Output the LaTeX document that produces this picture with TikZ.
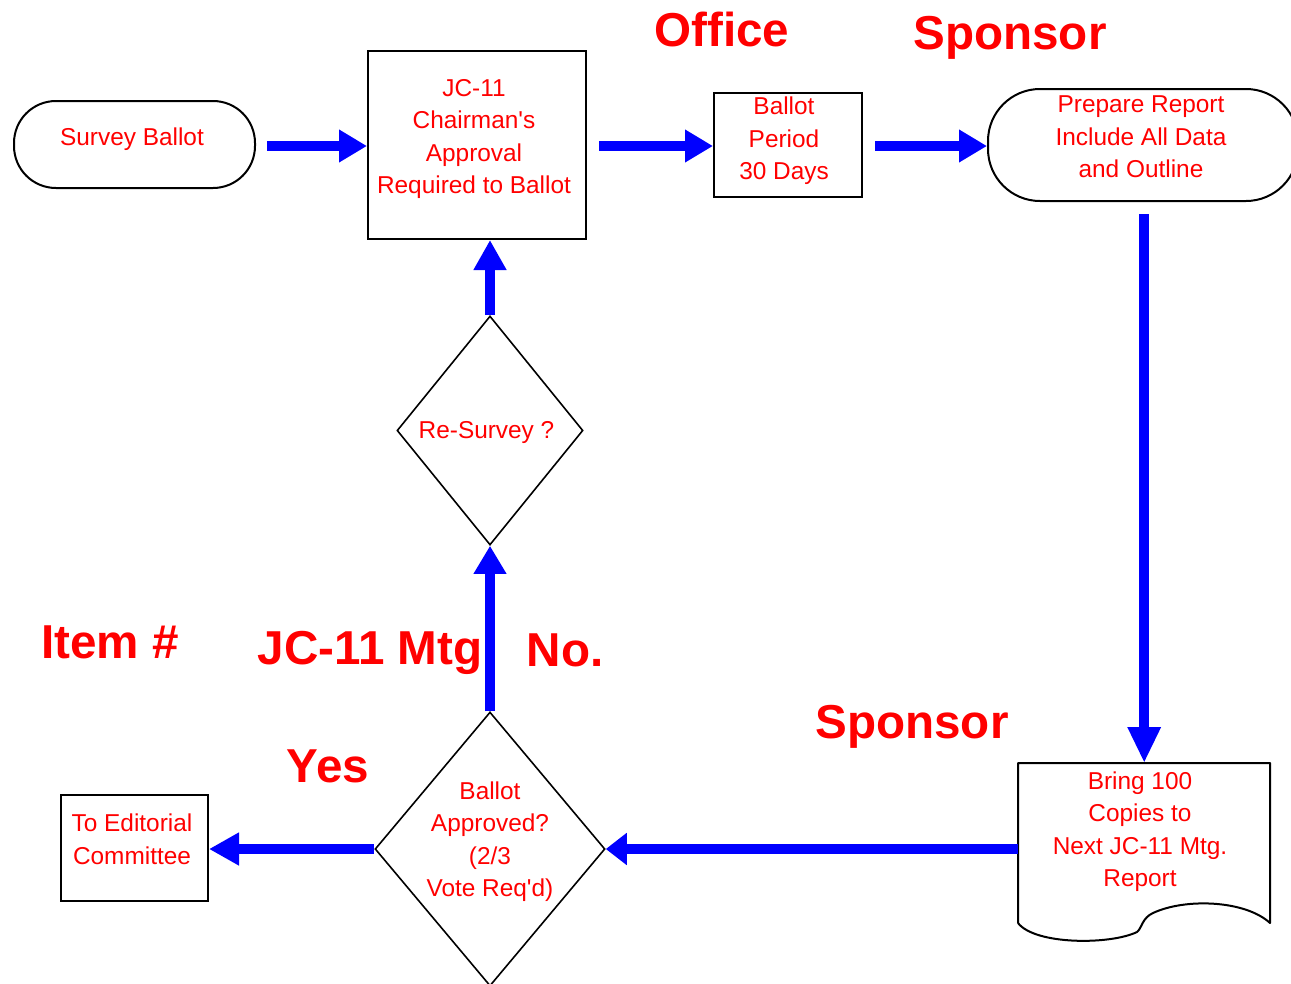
\documentclass[tikz,border=0pt]{standalone}
\usepackage{fontspec}
\setmainfont{Liberation Sans}[Ligatures=TeXOff]
\usetikzlibrary{arrows.meta,shapes.geometric}
\begin{document}
\begin{tikzpicture}[x=1pt,y=-1pt,
  box/.style={draw=black, line width=2pt, inner sep=0pt},
  dia/.style={draw=black, line width=1.6pt, shape=diamond, inner sep=0pt, aspect=1},
  txt/.style={text=red, font=\fontsize{24.4}{32.5}\selectfont, align=center, inner sep=0pt},
  big/.style={text=red, font=\fontsize{47.6}{56}\selectfont\bfseries, inner sep=0pt},
  flow/.style={draw=blue, line width=10pt, -{Triangle[length=#1,width=31pt]}},
  flow/.default=28pt]
\useasboundingbox (0,0) rectangle (1291,983);
\fill[white] (0,0) rectangle (1291,983);

% shapes
\node[box, rounded corners=42pt, minimum width=241pt, minimum height=87pt] (sb) at (134.5,144.5) {};
\node[box, minimum width=218pt, minimum height=188pt] (jc) at (477,145) {};
\node[box, minimum width=148pt, minimum height=104pt] (bp) at (788,145) {};
\node[box, rounded corners=52pt, minimum width=310pt, minimum height=112pt] (pr) at (1143,145) {};
\node[inner sep=0pt, minimum width=252pt, minimum height=160pt, anchor=north west] (doc) at (1018,763) {};
\draw[line width=2pt, line join=round] (1018,923) -- (1018,763) -- (1270,763) -- (1270,923)
  .. controls (1245,900) and (1185,898) .. (1153,913)
  .. controls (1142,918) and (1142,928) .. (1137,932)
  .. controls (1110,945) and (1035,945) .. (1018,923);
\node[dia, minimum width=230pt, minimum height=274pt] (ba) at (490,849) {};
\node[dia, minimum width=186pt, minimum height=229pt] (rs) at (490,430.5) {};
\node[box, minimum width=147pt, minimum height=106pt] (ed) at (134.5,848) {};

% texts
\node[txt] (tsb) at (132,139.5) {Survey Ballot};
\node[txt] (tjc) at (474,139) {JC-11\\Chairman's\\Approval\\Required to Ballot};
\node[txt] (tbp) at (784,140.8) {Ballot\\Period\\30 Days};
\node[txt] (tpr) at (1141,136.8) {Prepare Report\\Include All Data\\and Outline};
\node[txt] (tdoc) at (1140,831.7) {Bring 100\\Copies to\\Next JC-11 Mtg.\\Report};
\node[txt] (tba) at (490,841.5) {Ballot\\Approved?\\(2/3\\Vote Req'd)};
\node[txt] (trs) at (486.5,433) {Re-Survey ?};
\node[txt] (ted) at (132,839.5) {To Editorial\\Committee};

% big labels
\node[big] (office) at (722,29) {Office};
\node[big] (sp1) at (1010,38) {Sponsor};
\node[big] (item) at (110,642) {Item \#};
\node[big] (mtg) at (370,653) {JC-11 Mtg};
\node[big] (no) at (565,650) {No.};
\node[big] (sp2) at (912,727) {Sponsor};
\node[big] (yes) at (328,766) {Yes};

% connectors
\draw[flow, shorten <=11pt] (sb.east |- 0,146) -- (jc.west |- 0,146);
\draw[flow, shorten <=12pt] (jc.east |- 0,146) -- (bp.west |- 0,146);
\draw[flow, shorten <=12pt] (bp.east |- 0,146) -- (pr.west |- 0,146);
\draw[flow=36pt, shorten <=12pt] (pr.south -| doc.north) -- (doc.north);
\draw[flow=21pt] (doc.west |- ba.east) -- (ba.east);
\draw[flow=30pt] (ba.west) -- (ed.east |- ba.west);
\draw[flow] (ba.north) -- (rs.south -| ba.north);
\draw[flow=30pt] (rs.north) -- (jc.south -| rs.north);
\end{tikzpicture}
\end{document}
